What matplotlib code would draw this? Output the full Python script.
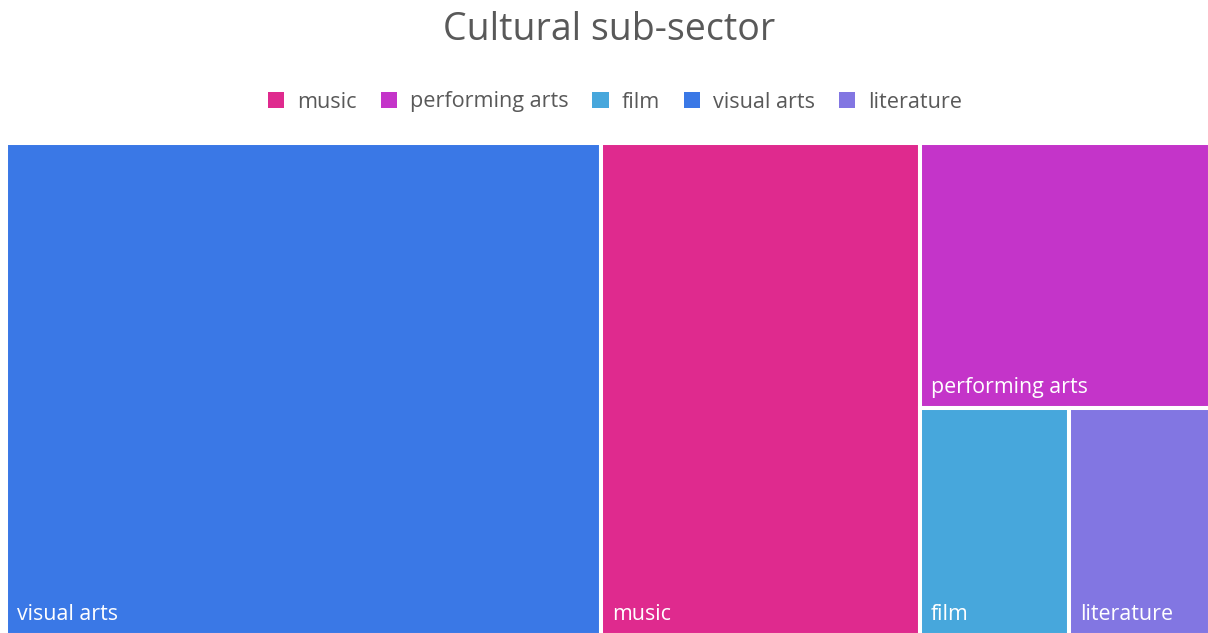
import matplotlib.pyplot as plt
from matplotlib.patches import Rectangle, Patch

plt.rcParams['font.family'] = ['Open Sans', 'DejaVu Sans']

# share of each cultural sub-sector (%)
sectors = ['visual arts', 'music', 'performing arts', 'film', 'literature']
shares = [49.4, 26.5, 13.0, 5.7, 5.4]
sector_colors = ['#3A78E6', '#DF2A8E', '#C434C9', '#47A7DC', '#8276E2']
legend_order = ['music', 'performing arts', 'film', 'visual arts', 'literature']

TEXT_GREY = '#595959'


def worst(row, side):
    s = sum(row)
    return max(max(side * side * r / (s * s), s * s / (side * side * r)) for r in row)


def squarify(areas, x, y, w, h):
    """Squarified treemap layout, y grows downwards."""
    rects = []
    areas = list(areas)
    while areas:
        side = min(w, h)
        row = [areas[0]]
        i = 1
        while i < len(areas) and worst(row + [areas[i]], side) <= worst(row, side):
            row.append(areas[i])
            i += 1
        areas = areas[i:]
        s = sum(row)
        if w >= h:
            cw = s / h
            yy = y
            for a in row:
                rects.append((x, yy, cw, a / cw))
                yy += a / cw
            x += cw
            w -= cw
        else:
            rh = s / w
            xx = x
            for a in row:
                rects.append((xx, y, a / rh, rh))
                xx += a / rh
            y += rh
            h -= rh
    return rects


fig = plt.figure(figsize=(12.08, 6.33), dpi=100)

# plot area in pixels
W, H = 1204, 492
ax = fig.add_axes([6 / 1208, -2 / 633, W / 1208, H / 633])
ax.set_xlim(0, W)
ax.set_ylim(H, 0)
ax.axis('off')

total = sum(shares)
areas = [v / total * W * H for v in shares]
for (rx, ry, rw, rh), name, col in zip(squarify(areas, 0, 0, W, H), sectors, sector_colors):
    ax.add_patch(Rectangle((rx, ry), rw, rh, facecolor=col, edgecolor='white', linewidth=2.9))
    ax.text(rx + 11, ry + rh - 15, name, color='white', fontsize=15.4,
            ha='left', va='baseline')

fig.text(609.5 / 1208, 1 - 40 / 633, 'Cultural sub-sector', ha='center', va='baseline',
         fontsize=27, color=TEXT_GREY)

handles = [Patch(facecolor=sector_colors[sectors.index(n)], label=n) for n in legend_order]
fig.legend(handles=handles, loc='center', bbox_to_anchor=(615 / 1208, 1 - 102 / 633),
           ncol=5, frameon=False, fontsize=15.6, labelcolor=TEXT_GREY,
           handlelength=0.75, handleheight=0.75, handletextpad=0.6, columnspacing=1.1)

fig.savefig('out.png', dpi=100)
